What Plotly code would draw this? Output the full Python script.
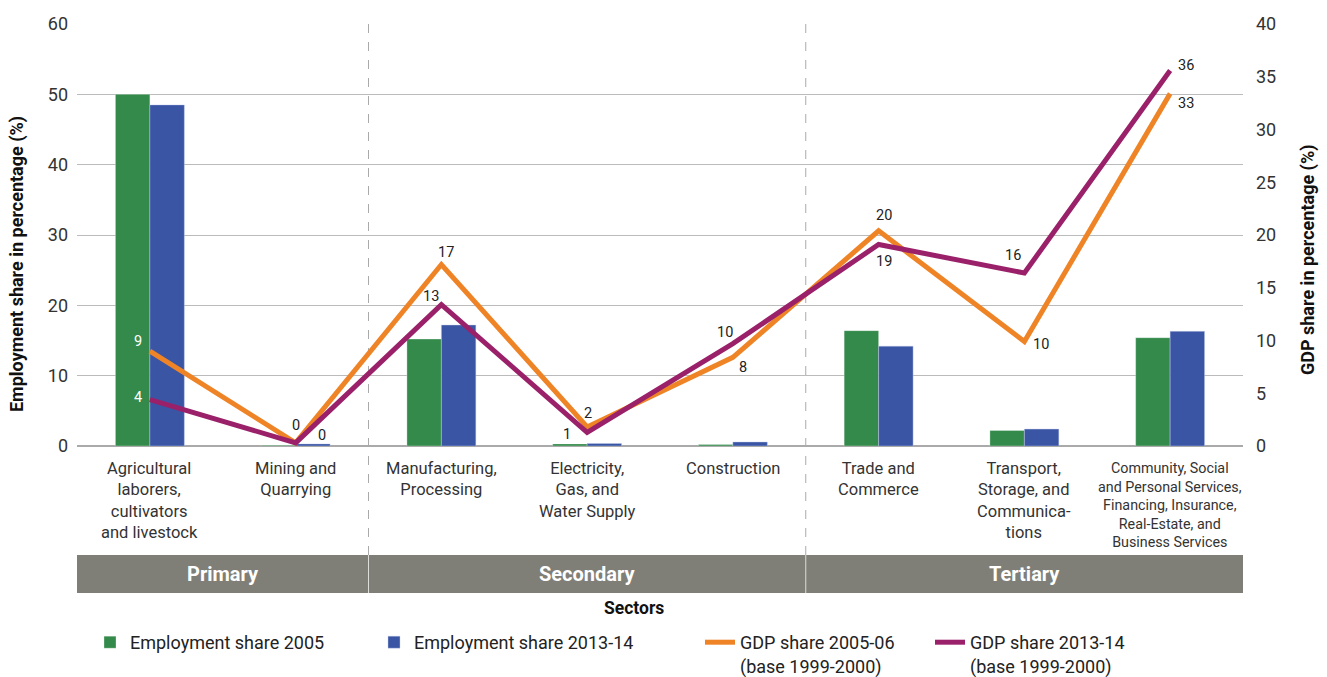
import plotly.graph_objects as go

# Sector categories (x axis) and their display labels
sectors = ["Agriculture", "Mining", "Manufacturing", "Electricity", "Construction",
           "Trade", "Transport", "Community"]
sector_labels = [
    "Agricultural<br>laborers,<br>cultivators<br>and livestock",
    "Mining and<br>Quarrying",
    "Manufacturing,<br>Processing",
    "Electricity,<br>Gas, and<br>Water Supply",
    "Construction",
    "Trade and<br>Commerce",
    "Transport,<br>Storage, and<br>Communica-<br>tions",
    "Community, Social<br>and Personal Services,<br>Financing, Insurance,<br>Real-Estate, and<br>Business Services",
]
groups = ["Primary", "Secondary", "Tertiary"]
group_centers = [0.5, 3, 6]
group_breaks = [1.5, 4.5]

# Employment share (%) - left axis
emp_2005 = [50.0, 0.1, 15.2, 0.3, 0.2, 16.4, 2.2, 15.4]
emp_2013 = [48.5, 0.3, 17.2, 0.35, 0.57, 14.2, 2.4, 16.3]

# GDP share (%) - right axis
gdp_2005 = [9.0, 0.3, 17.2, 1.8, 8.4, 20.4, 9.9, 33.4]
gdp_2013 = [4.4, 0.3, 13.4, 1.3, 9.7, 19.1, 16.4, 35.6]

# value-label offsets (pixels, +y is up) for each line point
gdp_2005_shift = [(-12, 10), (0, 17), (5, 12), (1, 14), (10, -10), (5, 15), (17, -3), (16, -10)]
gdp_2013_shift = [(-12, 2), (26, 7), (-10, 8), (-20, -2), (-8, 11), (5, -17), (-11, 17), (16, 5)]
label_colors = ["white"] + ["#222222"] * 7

GREEN = "#338A4A"
BLUE = "#3A55A3"
ORANGE = "#EF8427"
PURPLE = "#9A2169"
BAND = "#7F7E77"

W, H = 1327, 677
L, R, T, B = 77, 84, 24, 231
plot_h = H - T - B
plot_w = W - L - R


def py(y_px):
    """Convert a pixel row to paper y."""
    return (H - B - y_px) / plot_h


def px(x_px):
    """Convert a pixel column to paper x."""
    return (x_px - L) / plot_w


FONT = "Roboto, 'Liberation Sans', sans-serif"

fig = go.Figure()

fig.add_trace(go.Bar(
    x=sectors, y=emp_2005, name="Employment share 2005",
    marker=dict(color=GREEN, line=dict(color="rgba(255,255,255,0.5)", width=0.6)),
    legend="legend", showlegend=True,
))
fig.add_trace(go.Bar(
    x=sectors, y=emp_2013, name="Employment share 2013-14",
    marker=dict(color=BLUE, line=dict(color="rgba(200,210,240,0.7)", width=0.6)),
    legend="legend2", showlegend=True,
))
fig.add_trace(go.Scatter(
    x=sectors, y=gdp_2005, yaxis="y2", mode="lines",
    name="GDP share 2005-06<br>(base 1999-2000)",
    line=dict(color=ORANGE, width=5),
    legend="legend3", showlegend=True,
))
fig.add_trace(go.Scatter(
    x=sectors, y=gdp_2013, yaxis="y2", mode="lines",
    name="GDP share 2013-14<br>(base 1999-2000)",
    line=dict(color=PURPLE, width=5),
    legend="legend4", showlegend=True,
))

shapes = []
# dashed dividers between sector groups
for xb in group_breaks:
    shapes.append(dict(type="line", xref="x", yref="paper", x0=xb, x1=xb,
                       y0=py(555), y1=1, line=dict(color="#AAAAAA", width=1, dash="dash"),
                       layer="below"))
# group band
shapes.append(dict(type="rect", xref="paper", yref="paper", x0=0, x1=1,
                   y0=py(593), y1=py(555), fillcolor=BAND, line=dict(width=0)))
for xb in group_breaks:
    shapes.append(dict(type="line", xref="x", yref="paper", x0=xb, x1=xb,
                       y0=py(593), y1=py(555), line=dict(color="#DDDDDA", width=1)))

annotations = []
# value labels on the GDP lines
for values, shifts in ((gdp_2005, gdp_2005_shift), (gdp_2013, gdp_2013_shift)):
    for s, v, (dx, dy), col in zip(sectors, values, shifts, label_colors):
        annotations.append(dict(
            x=s, xref="x", y=v, yref="y2", text=f"{v:.0f}", showarrow=False,
            xshift=dx, yshift=dy, xanchor="center", yanchor="middle",
            font=dict(size=14.5, color=col, family=FONT),
        ))
for i, (s, lab) in enumerate(zip(sectors, sector_labels)):
    small = i == len(sectors) - 1
    annotations.append(dict(
        x=s, xref="x", y=py(457 if not small else 458), yref="paper",
        text=lab, showarrow=False, xanchor="center", yanchor="top",
        font=dict(size=14.3 if small else 16.5, color="#333333", family=FONT),
    ))
for g, c in zip(groups, group_centers):
    annotations.append(dict(
        x=c, xref="x", y=py(574), yref="paper", text="<b>" + g + "</b>",
        showarrow=False, xanchor="center", yanchor="middle",
        font=dict(size=20, color="white", family=FONT),
    ))
annotations.append(dict(
    x=px(634), xref="paper", y=py(608), yref="paper", text="<b>Sectors</b>",
    showarrow=False, xanchor="center", yanchor="middle",
    font=dict(size=17.5, color="#111111", family=FONT),
))
annotations.append(dict(
    x=px(17), xref="paper", y=py(264), yref="paper",
    text="<b>Employment share in percentage (%)</b>", textangle=-90,
    showarrow=False, xanchor="center", yanchor="middle",
    font=dict(size=18, color="#111111", family=FONT),
))
annotations.append(dict(
    x=px(1308), xref="paper", y=py(260), yref="paper",
    text="<b>GDP share in percentage (%)</b>", textangle=-90,
    showarrow=False, xanchor="center", yanchor="middle",
    font=dict(size=18, color="#111111", family=FONT),
))

legend_common = dict(orientation="h", yanchor="top", xanchor="left",
                     font=dict(size=18, color="#222222", family=FONT),
                     bgcolor="rgba(0,0,0,0)", valign="top", y=py(624))

fig.update_layout(
    width=W, height=H,
    margin=dict(l=L, r=R, t=T, b=B, autoexpand=False),
    paper_bgcolor="white", plot_bgcolor="white",
    barmode="group", bargap=0.527, bargroupgap=0,
    showlegend=True,
    font=dict(family=FONT, color="#333333"),
    xaxis=dict(range=[-0.5, 7.5], showticklabels=False, showgrid=False,
               zeroline=False, showline=False, ticks=""),
    yaxis=dict(range=[0, 60], dtick=10, showgrid=True, gridcolor="#BBBBBB",
               gridwidth=1.3, zeroline=True, zerolinecolor="#AAAAAA", zerolinewidth=1.5,
               showline=False, ticks="", ticklabelstandoff=8,
               tickfont=dict(size=18, color="#333333", family=FONT)),
    yaxis2=dict(range=[0, 40], dtick=5, overlaying="y", side="right",
                showgrid=False, zeroline=False, showline=False, ticks="",
                ticklabelstandoff=12,
                tickfont=dict(size=18, color="#333333", family=FONT)),
    shapes=shapes,
    annotations=annotations,
    legend=dict(x=px(90), **legend_common),
    legend2=dict(x=px(374), **legend_common),
    legend3=dict(x=px(700), **legend_common),
    legend4=dict(x=px(930), **legend_common),
)

fig.write_html("out.html")
